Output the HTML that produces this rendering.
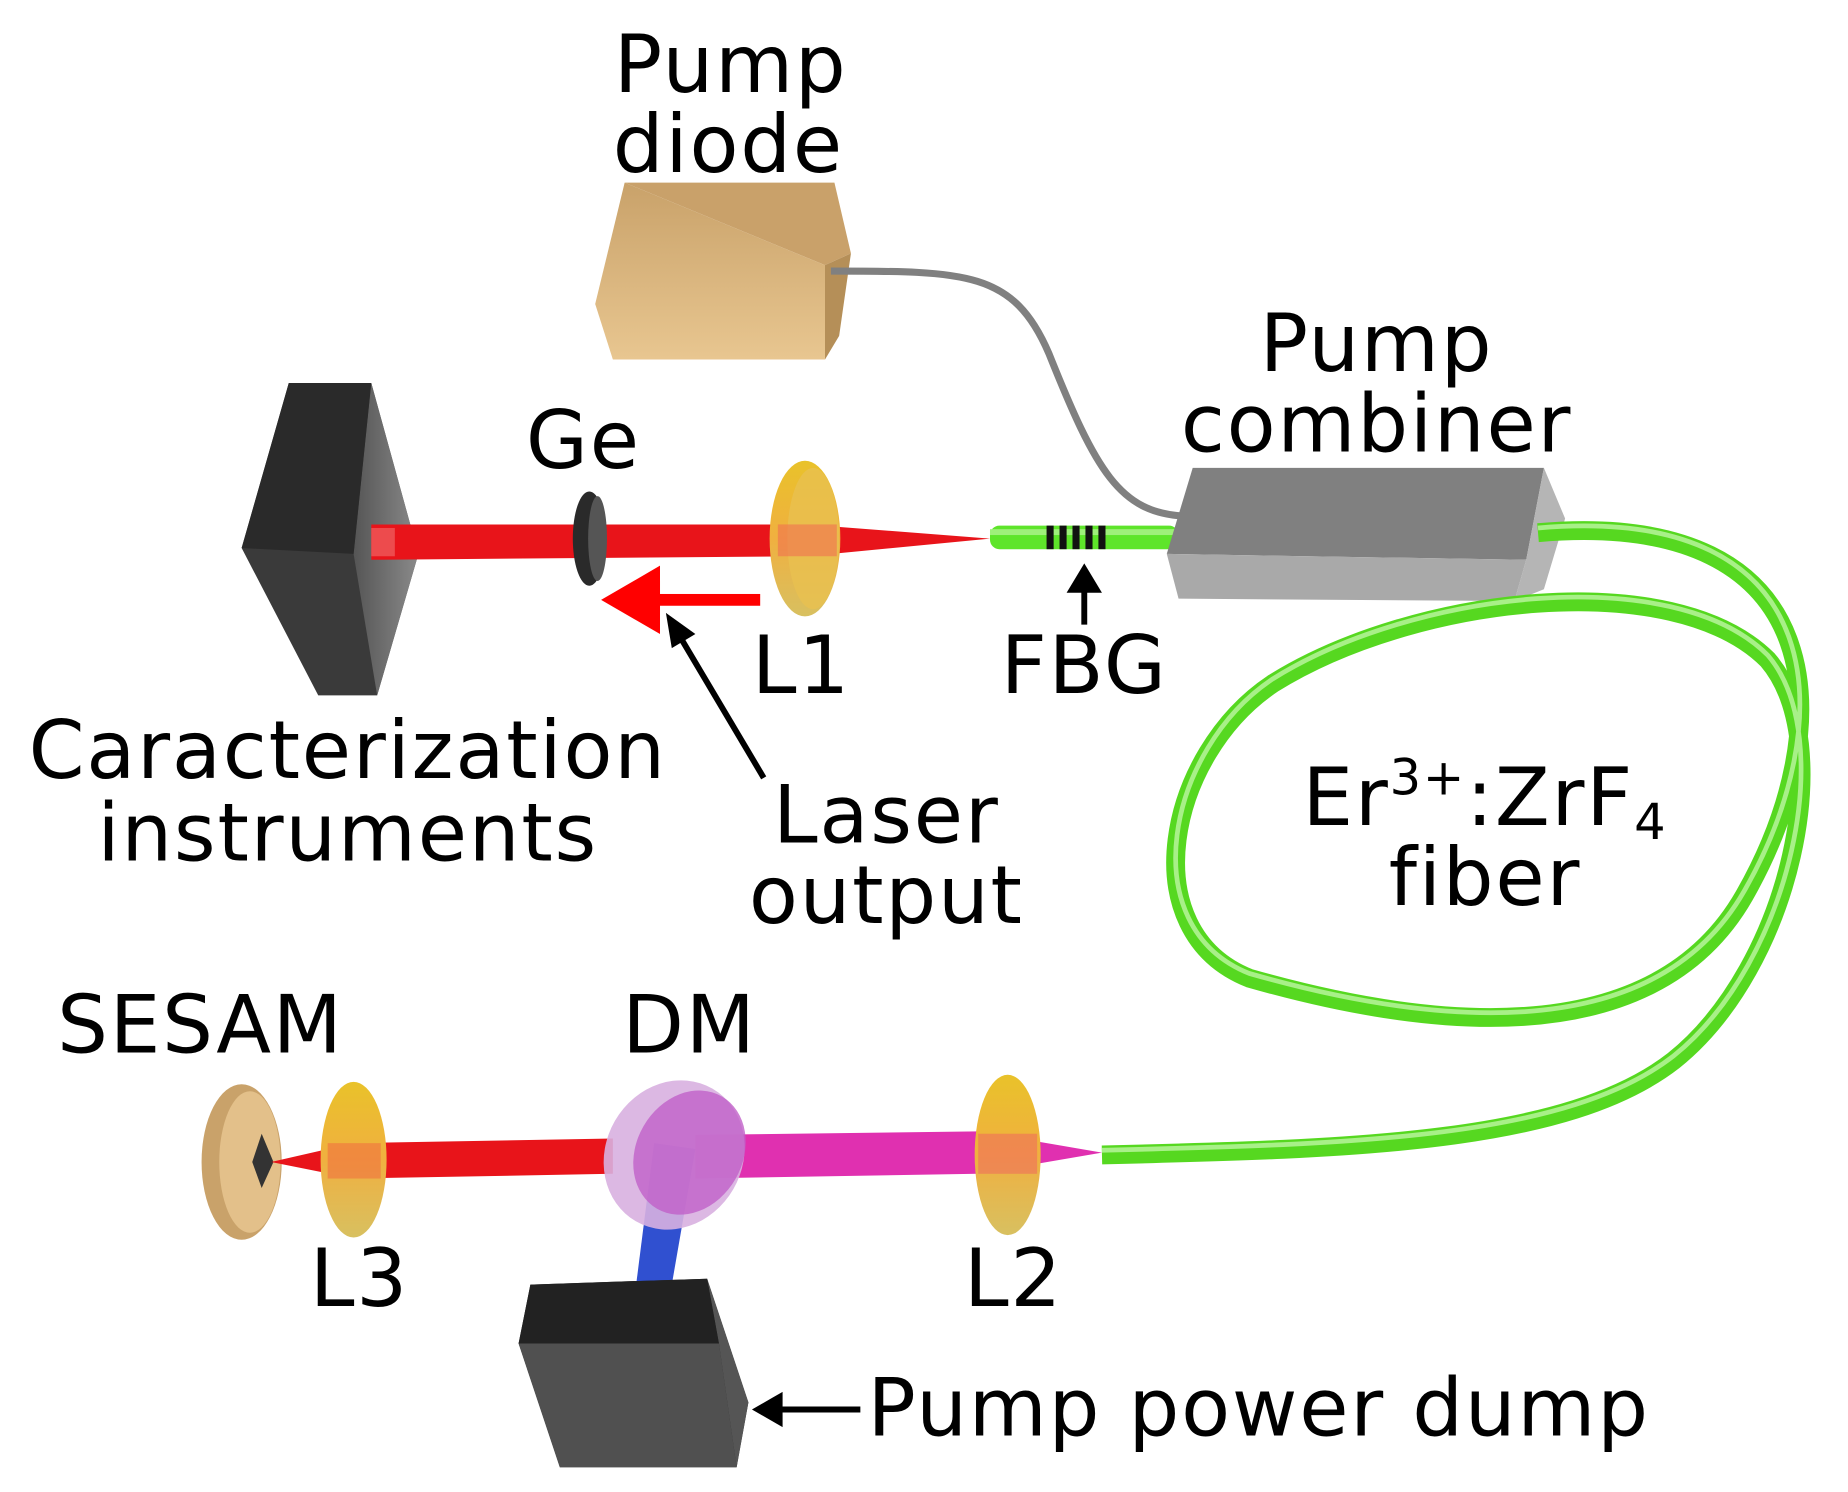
<!DOCTYPE html>
<html><head><meta charset="utf-8"><style>
html,body{margin:0;padding:0;background:#fff;}
svg{display:block;}
text{font-family:"DejaVu Sans","Liberation Sans",sans-serif;fill:#000;letter-spacing:1.5px;}
</style></head><body>
<svg width="1848" height="1492" viewBox="0 0 1568 1266" xmlns="http://www.w3.org/2000/svg">
<defs>
<linearGradient id="gold" x1="0" y1="0" x2="0" y2="1"><stop offset="0" stop-color="#c9a26a"/><stop offset="1" stop-color="#e8c690"/></linearGradient>
<linearGradient id="lens" x1="0" y1="0" x2="0" y2="1"><stop offset="0" stop-color="#e9c22a"/><stop offset="0.5" stop-color="#f0b040"/><stop offset="1" stop-color="#d8c060"/></linearGradient>
<linearGradient id="gbox" x1="0" y1="0" x2="1" y2="0"><stop offset="0" stop-color="#555"/><stop offset="1" stop-color="#8a8a8a"/></linearGradient>
</defs>
<!-- Pump diode -->
<text x="620" y="78" font-size="68" text-anchor="middle">Pump</text>
<text x="618" y="146" font-size="68" text-anchor="middle">diode</text>
<polygon points="530,155 708,155 722,215 700,225" fill="#c9a16a"/>
<polygon points="530,155 700,225 700,305 520,305 505,258" fill="url(#gold)"/>
<polygon points="700,225 722,215 712,285 700,305" fill="#b58f58"/>
<path d="M705,230 C820,230 860,230 890,300 C930,400 950,435 1005,438" stroke="#808080" stroke-width="6" fill="none"/>
<!-- Black box left -->
<polygon points="245,325 315,325 355,470 320,590 270,590 205,465" fill="#3a3a3a"/>
<polygon points="315,325 355,470 320,590 300,470" fill="url(#gbox)"/>
<polygon points="245,325 315,325 300,470 205,465" fill="#2a2a2a"/>
<!-- Red beam -->
<polygon points="315,445 685,445 840,457 685,472 315,475" fill="#e8141a"/>
<rect x="315" y="448" width="20" height="24" fill="#f07070" opacity="0.6"/>
<!-- Ge -->
<ellipse cx="500" cy="457" rx="14" ry="40" fill="#2a2a2a"/>
<ellipse cx="507" cy="457" rx="8" ry="36" fill="#555"/>
<text x="495" y="397" font-size="68" text-anchor="middle">Ge</text>
<!-- L1 -->
<ellipse cx="683" cy="457" rx="30" ry="66" fill="url(#lens)"/>
<ellipse cx="690" cy="457" rx="22" ry="60" fill="#e8c050" opacity="0.8"/>
<rect x="660" y="445" width="50" height="27" fill="#f07050" opacity="0.6"/>
<text x="680" y="588" font-size="68" text-anchor="middle">L1</text>
<!-- red arrow -->
<rect x="555" y="504" width="90" height="10" fill="#ff0000"/>
<polygon points="510,509 560,480 560,538" fill="#ff0000"/>
<!-- Laser output arrow -->
<line x1="648" y1="660" x2="578" y2="542" stroke="#000" stroke-width="5"/>
<polygon points="565,520 590,538 570,550" fill="#000"/>
<text x="752" y="715" font-size="68" text-anchor="middle">Laser</text>
<text x="752" y="783" font-size="68" text-anchor="middle">output</text>
<text x="295" y="660" font-size="68" text-anchor="middle">Caracterization</text>
<text x="295" y="730" font-size="68" text-anchor="middle">instruments</text>
<!-- Fiber to combiner -->
<rect x="840" y="446" width="160" height="20" rx="8" fill="#5ee52a"/>
<rect x="840" y="449" width="160" height="5" fill="#9ef07a"/>
<g fill="#111"><rect x="888" y="446" width="6" height="20"/><rect x="899" y="446" width="6" height="20"/><rect x="910" y="446" width="6" height="20"/><rect x="921" y="446" width="6" height="20"/><rect x="932" y="446" width="6" height="20"/></g>
<line x1="920" y1="530" x2="920" y2="500" stroke="#000" stroke-width="5"/>
<polygon points="920,478 905,503 935,503" fill="#000"/>
<text x="920" y="588" font-size="68" text-anchor="middle">FBG</text>
<!-- Combiner -->
<text x="1168" y="315" font-size="68" text-anchor="middle">Pump</text>
<text x="1168" y="383" font-size="68" text-anchor="middle">combiner</text>
<polygon points="1012,397 1310,397 1295,475 990,470" fill="#808080"/>
<polygon points="990,470 1295,475 1285,510 1000,508" fill="#a9a9a9"/>
<polygon points="1310,397 1328,440 1310,500 1285,510 1295,475" fill="#b5b5b5"/>
<!-- Green loop -->
<path d="M1305,452 C1560,430 1560,620 1480,760 C1400,900 1200,870 1060,830 C960,790 990,640 1080,580 C1200,505 1420,480 1500,560 C1560,630 1520,820 1420,900 C1330,970 1150,975 935,980" stroke="#56d820" stroke-width="16" fill="none"/>
<path d="M1305,452 C1560,430 1560,620 1480,760 C1400,900 1200,870 1060,830 C960,790 990,640 1080,580 C1200,505 1420,480 1500,560 C1560,630 1520,820 1420,900 C1330,970 1150,975 935,980" stroke="#a8f088" stroke-width="4" fill="none" transform="translate(0,-4)"/>
<text x="1260" y="700" font-size="68" text-anchor="middle">Er<tspan font-size="42" dy="-26">3+</tspan><tspan dy="26">:ZrF</tspan><tspan font-size="42" dy="12">4</tspan></text>
<text x="1260" y="768" font-size="68" text-anchor="middle">fiber</text>
<!-- Lower path -->
<text x="170" y="893" font-size="68" text-anchor="middle">SESAM</text>
<text x="585" y="893" font-size="68" text-anchor="middle">DM</text>
<!-- SESAM -->
<ellipse cx="205" cy="986" rx="34" ry="66" fill="#c9a26a"/>
<ellipse cx="212" cy="986" rx="26" ry="60" fill="#e3c08a"/>
<polygon points="222,962 232,986 222,1008 214,986" fill="#333"/>
<!-- red beam lower -->
<polygon points="230,986 300,970 520,966 520,996 300,1000" fill="#e8141a"/>
<!-- blue beam -->
<polygon points="555,970 590,975 570,1090 540,1088" fill="#3050d0"/>
<!-- magenta beam -->
<polygon points="590,963 830,960 935,978 830,996 590,1000" fill="#e030b0"/>
<!-- DM -->
<ellipse cx="572" cy="980" rx="58" ry="65" fill="#d8b0e0" opacity="0.9" transform="rotate(30 572 980)"/>
<ellipse cx="585" cy="978" rx="45" ry="55" fill="#c060c8" opacity="0.8" transform="rotate(30 585 978)"/>
<!-- L3 -->
<ellipse cx="300" cy="984" rx="28" ry="66" fill="url(#lens)"/>
<rect x="278" y="970" width="45" height="30" fill="#f07040" opacity="0.6"/>
<text x="305" y="1108" font-size="68" text-anchor="middle">L3</text>
<!-- L2 -->
<ellipse cx="855" cy="980" rx="28" ry="68" fill="url(#lens)"/>
<rect x="830" y="962" width="50" height="34" fill="#f06060" opacity="0.5"/>
<text x="860" y="1108" font-size="68" text-anchor="middle">L2</text>
<!-- Dump box -->
<polygon points="450,1090 600,1085 635,1190 625,1245 475,1245 440,1140" fill="#2a2a2a"/>
<polygon points="600,1085 635,1190 625,1245 610,1140" fill="#555"/>
<polygon points="440,1140 610,1140 625,1245 475,1245" fill="#505050"/>
<polygon points="450,1090 600,1085 610,1140 440,1140" fill="#222"/>
<line x1="660" y1="1196" x2="730" y2="1196" stroke="#000" stroke-width="5"/>
<polygon points="638,1196 664,1181 664,1211" fill="#000"/>
<text x="1068" y="1218" font-size="68" text-anchor="middle">Pump power dump</text>
</svg>
</body></html>
